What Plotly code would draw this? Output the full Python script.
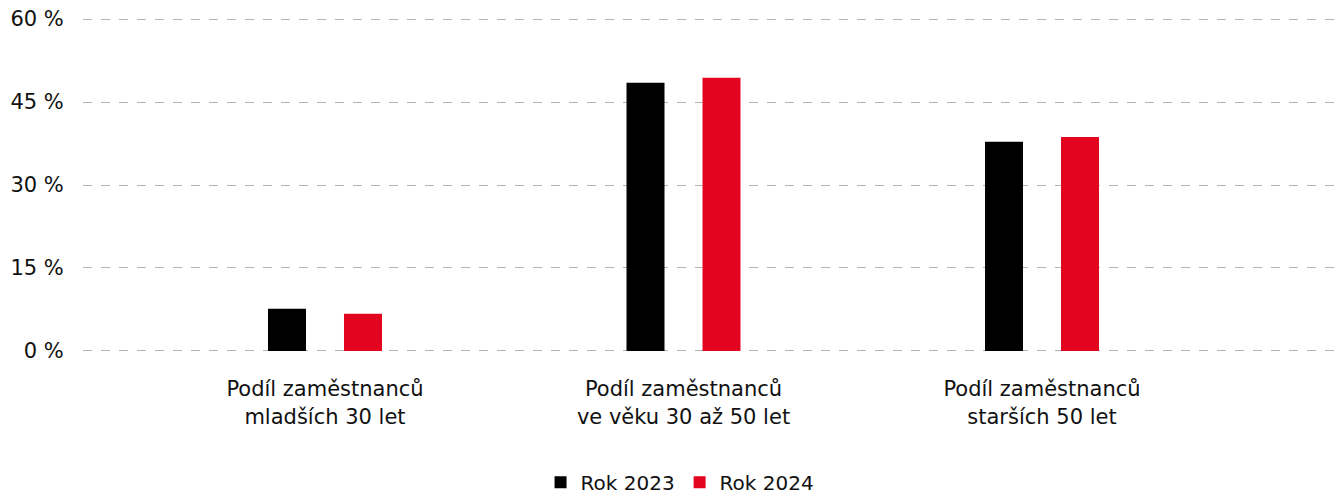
import plotly.graph_objects as go

categories = ["Podíl zaměstnanců<br>mladších 30 let",
              "Podíl zaměstnanců<br>ve věku 30 až 50 let",
              "Podíl zaměstnanců<br>starších 50 let"]
series_names = ["Rok 2023", "Rok 2024"]
values_2023 = [7.6, 48.5, 37.8]
values_2024 = [6.7, 49.4, 38.7]
y_ticks = [0, 15, 30, 45, 60]
y_tick_labels = ["0 %", "15 %", "30 %", "45 %", "60 %"]

colors = ["#000000", "#e30520"]
x_idx = [0, 1, 2]

fig = go.Figure()
for name, vals, col, off in zip(series_names, [values_2023, values_2024], colors, [-0.159, 0.053]):
    fig.add_trace(go.Bar(
        x=x_idx, y=vals, name=name, marker=dict(color=col, line=dict(width=0)),
        width=0.106, offset=off, hoverinfo="y+name",
    ))

fig.update_layout(
    width=1341, height=497,
    margin=dict(l=83, r=0, t=18, b=145, autoexpand=False),
    paper_bgcolor="white", plot_bgcolor="white",
    font=dict(family="'DejaVu Sans', sans-serif", size=21, color="#111111"),
    barmode="overlay",
    showlegend=True,
    legend=dict(orientation="h", x=0.4746, xanchor="center",
                y=-0.39, yanchor="middle",
                font=dict(size=20), traceorder="normal"),
    xaxis=dict(
        tickmode="array", tickvals=x_idx, ticktext=categories,
        range=[-0.675, 2.834], showgrid=False, zeroline=False, showline=False,
        ticks="outside", ticklen=18, tickcolor="rgba(0,0,0,0)", automargin=False,
    ),
    yaxis=dict(
        range=[-0.2, 60.2], tickmode="array", tickvals=y_ticks, ticktext=y_tick_labels,
        showgrid=True, gridcolor="#b4b4b4", gridwidth=1, griddash="dash",
        zeroline=False, showline=False, automargin=False,
        ticks="outside", ticklen=14, tickcolor="rgba(0,0,0,0)",
    ),
)

fig.write_html(
    "out.html",
    config={"displayModeBar": False},
    post_script="document.body.style.margin='0';document.body.style.padding='0';",
)
